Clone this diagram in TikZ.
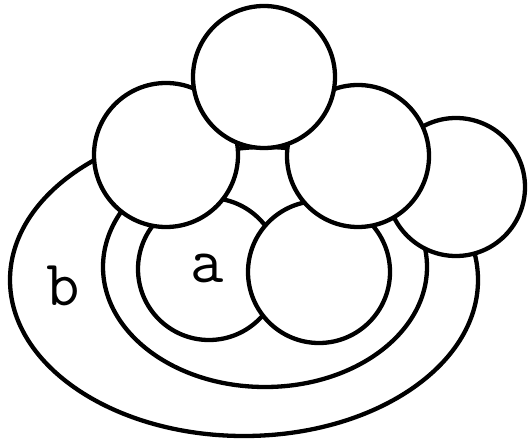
\documentclass[tikz,border=0pt]{standalone}
\usetikzlibrary{positioning}
\tikzset{
  blob/.style={draw, fill=white, line width=4.3bp},
  tag/.style={font=\ttfamily\fontsize{65}{67}\selectfont, inner sep=0pt}
}

\begin{document}
\begin{tikzpicture}[x=1bp, y=-1bp]
  \useasboundingbox (0,0) rectangle (529,441);

  % 外圈与内圈
  \draw[blob] (244,280) ellipse [x radius=234, y radius=156];
  \draw[blob] (265,267) ellipse [x radius=162, y radius=120];

  % 下排两个圆
  \draw[blob] (209,269) circle (71);
  \draw[blob] (319,272) circle (71);

  % 上排的圆
  \draw[blob] (456,187) circle (69);
  \draw[blob] (166,155) circle (72);
  \draw[blob] (358,156) circle (71);
  \draw[blob] (264,77) circle (71);

  % 标签
  \node[tag] (lbla) at (207,268) {a};
  \node[tag] (lblb) at (63,286) {b};
\end{tikzpicture}
\end{document}
